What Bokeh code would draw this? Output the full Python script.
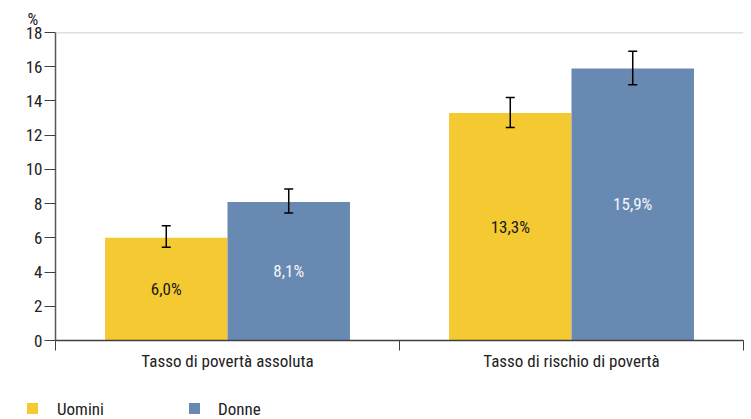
from bokeh.plotting import figure
from bokeh.layouts import column
from bokeh.models import (ColumnDataSource, Range1d, LinearAxis, FixedTicker, Title, Span, Div)
from bokeh.transform import dodge
from bokeh.core.properties import value
from bokeh.embed import file_html
from bokeh.resources import INLINE

categories = ["Tasso di povertà assoluta", "Tasso di rischio di povertà"]
series = ["Uomini", "Donne"]
uomini = [6.0, 13.3]
donne = [8.1, 15.9]
uomini_lo = [5.45, 12.45]
uomini_hi = [6.7, 14.2]
donne_lo = [7.45, 14.95]
donne_hi = [8.85, 16.9]
y_ticks = [0, 2, 4, 6, 8, 10, 12, 14, 16, 18]

FONT = "'Roboto Condensed', 'Liberation Sans Narrow', 'DejaVu Sans Condensed', Roboto, sans-serif"
YELLOW = "#F4C932"
BLUE = "#6889B2"

def fmt(v):
    return f"{v:.1f}%".replace(".", ",")

centers = [i + 0.5 for i in range(len(categories))]

src = ColumnDataSource(dict(
    xc=centers,
    u=uomini, d=donne,
    u_lo=uomini_lo, u_hi=uomini_hi,
    d_lo=donne_lo, d_hi=donne_hi,
    u_mid=[v / 2 for v in uomini], d_mid=[v / 2 for v in donne],
    u_lab=[fmt(v) for v in uomini], d_lab=[fmt(v) for v in donne],
))

p = figure(width=751, height=385, x_range=Range1d(0, len(categories)),
           y_range=Range1d(0, 18), output_backend="svg", toolbar_location=None,
           x_axis_type=None, y_axis_type=None,
           min_border_left=55, min_border_right=8, min_border_top=32, min_border_bottom=45)
p.outline_line_color = None
p.background_fill_color = "white"
p.xgrid.visible = False

off = 0.178
w = 0.356
p.vbar(x=dodge("xc", -off), top="u", width=w, source=src, fill_color=YELLOW, line_color=None)
p.vbar(x=dodge("xc", off), top="d", width=w, source=src, fill_color=BLUE, line_color=None)

for xo, lo, hi in [(-off, "u_lo", "u_hi"), (off, "d_lo", "d_hi")]:
    p.segment(x0=dodge("xc", xo), x1=dodge("xc", xo), y0=lo, y1=hi, source=src,
              line_color="black", line_width=1.5)
    for yy in (lo, hi):
        p.scatter(x=dodge("xc", xo), y=yy, source=src, marker="dash", size=9,
                  line_color="black", line_width=1.5)

p.text(x=dodge("xc", -off), y="u_mid", text="u_lab", source=src,
       text_font=value(FONT), text_font_size="17px", text_color="#1a1a1a",
       text_align="center", text_baseline="middle")
p.text(x=dodge("xc", off), y="d_mid", text="d_lab", source=src,
       text_font=value(FONT), text_font_size="17px", text_color="#f4f6fa",
       text_align="center", text_baseline="middle")

# y axis
ya = LinearAxis(ticker=FixedTicker(ticks=y_ticks))
ya.axis_line_color = "#595959"
ya.axis_line_width = 1.5
ya.major_tick_line_color = "#404040"
ya.major_tick_out = 11
ya.major_tick_in = 0
ya.minor_tick_line_color = None
ya.major_label_standoff = 2
ya.major_label_text_font = FONT
ya.major_label_text_font_size = "17px"
ya.major_label_text_color = "#222222"
p.add_layout(ya, "left")

p.ygrid.grid_line_color = "#D9D9D9"
p.ygrid.ticker = FixedTicker(ticks=y_ticks)
p.add_layout(Span(location=18, dimension="width", line_color="#BFBFBF", line_width=1.5))

# x axes: boundary ticks, then category labels
bounds = list(range(len(categories) + 1))
xa_ticks = LinearAxis(ticker=FixedTicker(ticks=bounds),
                      major_label_overrides={b: "" for b in bounds})
xa_ticks.axis_line_color = "#404040"
xa_ticks.axis_line_width = 1.5
xa_ticks.major_tick_line_color = "#404040"
xa_ticks.major_tick_out = 10
xa_ticks.major_tick_in = 0
xa_ticks.minor_tick_line_color = None
xa_ticks.major_label_text_font_size = "1px"
xa_ticks.major_label_standoff = 0
p.add_layout(xa_ticks, "below")

xa = LinearAxis(ticker=FixedTicker(ticks=centers),
                major_label_overrides={c: n for c, n in zip(centers, categories)})
xa.axis_line_color = None
xa.major_tick_line_color = None
xa.minor_tick_line_color = None
xa.major_label_standoff = -6
xa.major_label_text_font = FONT
xa.major_label_text_font_size = "17px"
xa.major_label_text_color = "#222222"
p.add_layout(xa, "below")

p.add_layout(Title(text="%", align="left", offset=-28, standoff=8,
                   text_font=FONT, text_font_size="17px", text_font_style="normal",
                   text_color="#222222"), "above")

# legend strip below the chart
items_html = ""
for (name, color, sq_left, txt_left) in [(series[0], YELLOW, 27, 57), (series[1], BLUE, 189, 218)]:
    items_html += (
        f'<span style="position:absolute;left:{sq_left}px;top:18px;width:11px;height:11px;'
        f'background:{color};"></span>'
        f'<span style="position:absolute;left:{txt_left}px;top:14px;line-height:20px;'
        f'white-space:nowrap;">{name}</span>'
    )
legend_div = Div(
    text=(f'<div style="position:relative;width:751px;height:34px;font-family:{FONT};'
          f'font-size:17px;color:#222222;">{items_html}</div>'),
    width=751, height=34, margin=0)

layout = column(p, legend_div, spacing=0)
open("out.html", "w").write(file_html(layout, INLINE))
